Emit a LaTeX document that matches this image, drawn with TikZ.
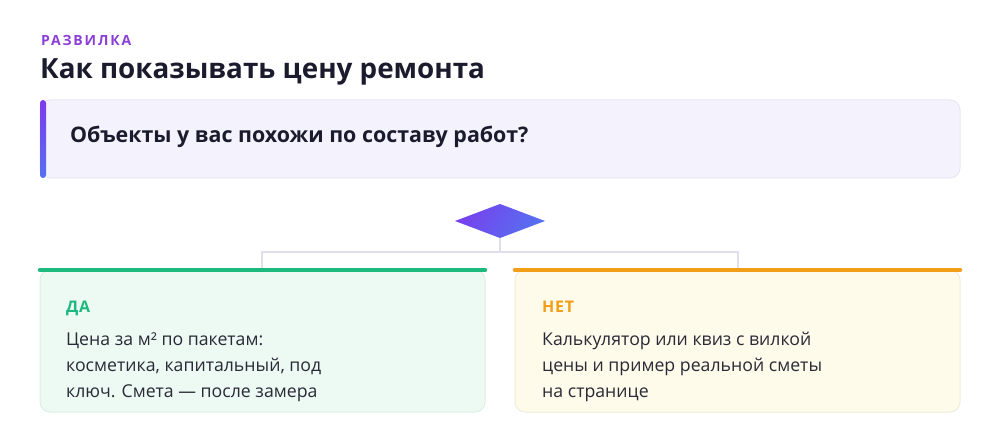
\documentclass[tikz,border=0pt]{standalone}
\usepackage{fontspec}
\setmainfont{Open Sans}
\newfontfamily\spacedfont{Open Sans}[LetterSpace=13]
\newfontfamily\headfont{Open Sans}[LetterSpace=5]
\definecolor{labelpurple}{HTML}{8B3FD6}
\definecolor{titleink}{HTML}{1C1B2E}
\definecolor{bodyink}{HTML}{2A2A36}
\definecolor{qfill}{HTML}{F4F3FD}
\definecolor{qborder}{HTML}{E8E7F5}
\definecolor{accenttop}{HTML}{7C3AED}
\definecolor{accentbot}{HTML}{5670F0}
\definecolor{connector}{HTML}{E0DFEE}
\definecolor{yesgreen}{HTML}{1DB97F}
\definecolor{yesfill}{HTML}{ECFAF3}
\definecolor{yesborder}{HTML}{DDEFE6}
\definecolor{noorange}{HTML}{F29E18}
\definecolor{nofill}{HTML}{FEFBEB}
\definecolor{noborder}{HTML}{F1EDDC}
\tikzset{
  txt/.style={anchor=base west, inner sep=0pt},
  bodytxt/.style={txt, text=bodyink, font=\fontsize{17.7}{26}\selectfont},
  headtxt/.style={txt, font=\headfont\bfseries\fontsize{16}{18}\selectfont},
  conn/.style={draw=connector, line width=1.8pt},
  topbar/.style={line width=4.5pt, line cap=round},
}
\begin{document}
\begin{tikzpicture}[x=1pt,y=-1pt]
\useasboundingbox (0,0) rectangle (1000,446);
\fill[white] (0,0) rectangle (1000,446);

% header
\node[txt, text=labelpurple] (kicker) at (41,46) {\spacedfont\bfseries\fontsize{14}{16}\selectfont РАЗВИЛКА};
\node[txt, text=titleink, font=\bfseries\fontsize{27.8}{32}\selectfont] (title) at (40,79) {Как показывать цену ремонта};

% question box
\draw[fill=qfill, draw=qborder, line width=1pt, rounded corners=10pt] (40,100) rectangle (960,178);
\shade[top color=accenttop, bottom color=accentbot, rounded corners=3pt] (40,100) rectangle (46,178);
\node[txt, text=titleink, font=\bfseries\fontsize{21.4}{26}\selectfont] (question) at (70,143) {Объекты у вас похожи по составу работ?};

% diamond
\shade[left color=accenttop!85!accentbot, right color=accentbot, shading angle=60]
  (455,221) -- (500,204) -- (545,221) -- (500,238) -- cycle;
\coordinate (dia) at (500,238);
\coordinate (fork) at (500,252);
\coordinate (yesjoin) at (262,252);
\coordinate (nojoin) at (738,252);
\coordinate (yestop) at (262,268);
\coordinate (notop) at (738,268);
\draw[conn] (dia) -- (fork);
\draw[conn] (yestop) -- (yesjoin) -- (nojoin) -- (notop);

% yes card
\draw[fill=yesfill, draw=yesborder, line width=1pt, rounded corners=10pt] (40,270) rectangle (485,412);
\draw[topbar, yesgreen] (40,270) -- (485,270);
\node[headtxt, text=yesgreen] (yeshead) at (66,312) {ДА};
\node[bodytxt] (yesline1) at (66,345) {Цена за м² по пакетам:};
\node[bodytxt] (yesline2) at (66,371) {косметика, капитальный, под};
\node[bodytxt] (yesline3) at (66,397) {ключ. Смета — после замера};

% no card
\draw[fill=nofill, draw=noborder, line width=1pt, rounded corners=10pt] (515,270) rectangle (960,412);
\draw[topbar, noorange] (515,270) -- (960,270);
\node[headtxt, text=noorange] (nohead) at (542,312) {НЕТ};
\node[bodytxt] (noline1) at (542,345) {Калькулятор или квиз с вилкой};
\node[bodytxt] (noline2) at (542,371) {цены и пример реальной сметы};
\node[bodytxt] (noline3) at (542,397) {на странице};
\end{tikzpicture}
\end{document}
